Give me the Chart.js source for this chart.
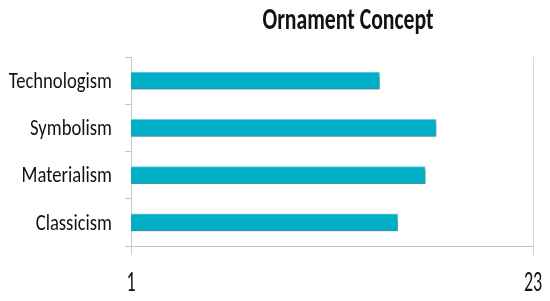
<!DOCTYPE html>
<html>
<head>
<meta charset="utf-8">
<script src="https://cdn.jsdelivr.net/npm/chart.js@4/dist/chart.umd.min.js"></script>
<style>
  html, body { margin: 0; padding: 0; background: #ffffff; }
  #wrap { width: 550px; height: 301px; position: relative; }
</style>
</head>
<body>
<div id="wrap"><canvas id="c"></canvas></div>
<script>
const chartTitle = "Ornament Concept";
const categories = ["Technologism", "Symbolism", "Materialism", "Classicism"];
const values = [14.6, 17.7, 17.1, 15.6];
const axisMin = 1;
const axisMax = 23;
const xTickValues = [1, 23];

const FONT = "Carlito, 'Liberation Sans', Arial, sans-serif";

// The reference text is condensed horizontally; reproduce that with a canvas transform.
function stretchScaleLabels(scale, mode, k, shiftY) {
  if (scale._stretched) return;
  scale._stretched = true;
  scale._computeLabelArea = function () { return undefined; };
  const orig = scale.drawLabels;
  scale.drawLabels = function (area) {
    const ctx = this.ctx;
    const items = this.getLabelItems(area);
    ctx.save();
    if (items.length) {
      if (mode === 'vertical') {
        const cy = items[0].options.translation[1] + (items[0].textOffset || 0);
        ctx.translate(0, cy);
        ctx.scale(1, k);
        ctx.translate(0, -cy);
      } else {
        const cx = items[0].options.translation[0];
        ctx.translate(cx, shiftY || 0);
        ctx.scale(k, 1);
        ctx.translate(-cx, 0);
      }
    }
    orig.call(this, area);
    ctx.restore();
  };
}

const shadowPlugin = {
  id: 'barShadow',
  beforeDatasetsDraw(chart) {
    const ctx = chart.ctx;
    ctx.save();
    ctx.shadowColor = 'rgba(0,0,0,0.35)';
    ctx.shadowBlur = 3;
    ctx.shadowOffsetX = 2;
    ctx.shadowOffsetY = 3;
  },
  afterDatasetsDraw(chart) {
    chart.ctx.restore();
  }
};

const titlePlugin = {
  id: 'customTitle',
  afterDraw(chart) {
    const ctx = chart.ctx;
    ctx.save();
    ctx.font = "bold 31px " + FONT;
    ctx.fillStyle = '#111111';
    ctx.textAlign = 'center';
    ctx.textBaseline = 'alphabetic';
    ctx.translate(348, 29);
    ctx.scale(0.70, 1);
    ctx.fillText(chartTitle, 0, 0);
    ctx.restore();
  }
};

new Chart(document.getElementById('c'), {
  type: 'bar',
  data: {
    labels: categories,
    datasets: [{
      data: values,
      backgroundColor: '#00AEC8',
      borderColor: '#6FD3E2',
      borderWidth: 1,
      barThickness: 17
    }]
  },
  options: {
    indexAxis: 'y',
    responsive: true,
    maintainAspectRatio: false,
    animation: false,
    devicePixelRatio: 1,
    layout: { padding: { top: 57, right: 17, left: 0, bottom: 0 } },
    plugins: {
      legend: { display: false },
      title: { display: false },
      tooltip: { enabled: false }
    },
    scales: {
      x: {
        type: 'linear',
        min: axisMin,
        max: axisMax,
        afterBuildTicks(scale) {
          scale.ticks = xTickValues.map(v => ({ value: v }));
        },
        afterFit(scale) {
          scale.height = 55;
          scale.paddingLeft = 0;
          scale.paddingRight = 0;
          stretchScaleLabels(scale, 'vertical', 1.58);
        },
        grid: {
          display: true,
          color: '#d9d9d9',
          lineWidth: 1,
          drawOnChartArea: true,
          drawTicks: true,
          tickLength: 9,
          tickColor: '#d0d0d0'
        },
        border: { display: true, color: '#bfbfbf', width: 1 },
        ticks: {
          padding: 18,
          color: '#111111',
          font: { family: FONT, size: 18 },
          maxRotation: 0,
          autoSkip: false
        }
      },
      y: {
        afterFit(scale) {
          scale.width = 131;
          stretchScaleLabels(scale, 'horizontal', 0.81, 1.5);
        },
        grid: {
          display: true,
          offset: true,
          drawOnChartArea: false,
          drawTicks: true,
          tickLength: 6,
          tickColor: '#c8c8c8'
        },
        border: { display: true, color: '#c8c8c8', width: 1 },
        ticks: {
          padding: 13,
          color: '#111111',
          font: { family: FONT, size: 23 }
        }
      }
    }
  },
  plugins: [shadowPlugin, titlePlugin]
});
</script>
</body>
</html>
